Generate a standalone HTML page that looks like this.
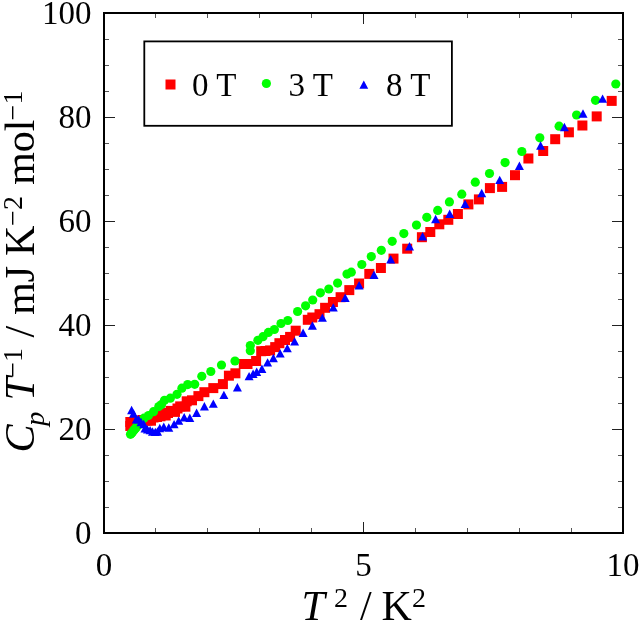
<!DOCTYPE html>
<html><head><meta charset="utf-8"><style>
html,body{margin:0;padding:0;background:#fff;}
svg{display:block;will-change:transform;}
text{font-family:"Liberation Serif",serif;}
</style></head><body>
<svg width="640" height="622" viewBox="0 0 640 622">
<rect width="640" height="622" fill="#fff"/>
<g fill="#f00" stroke="none"><rect x="125.3" y="417.0" width="10" height="10"/><rect x="125.3" y="421.0" width="10" height="10"/><rect x="127.5" y="419.5" width="10" height="10"/><rect x="130.0" y="418.0" width="10" height="10"/><rect x="132.5" y="416.5" width="10" height="10"/><rect x="135.0" y="415.5" width="10" height="10"/><rect x="137.5" y="415.0" width="10" height="10"/><rect x="140.0" y="415.5" width="10" height="10"/><rect x="142.5" y="415.5" width="10" height="10"/><rect x="146.0" y="415.7" width="10" height="10"/><rect x="148.5" y="412.5" width="10" height="10"/><rect x="152.0" y="412.0" width="10" height="10"/><rect x="155.5" y="411.3" width="10" height="10"/><rect x="157.5" y="409.0" width="10" height="10"/><rect x="160.7" y="410.5" width="10" height="10"/><rect x="163.0" y="408.0" width="10" height="10"/><rect x="165.6" y="405.9" width="10" height="10"/><rect x="170.0" y="406.9" width="10" height="10"/><rect x="172.5" y="403.5" width="10" height="10"/><rect x="175.2" y="401.4" width="10" height="10"/><rect x="180.4" y="401.7" width="10" height="10"/><rect x="181.7" y="396.3" width="10" height="10"/><rect x="187.0" y="395.3" width="10" height="10"/><rect x="193.4" y="391.1" width="10" height="10"/><rect x="199.4" y="387.2" width="10" height="10"/><rect x="208.3" y="383.1" width="10" height="10"/><rect x="217.9" y="379.1" width="10" height="10"/><rect x="223.9" y="370.7" width="10" height="10"/><rect x="230.4" y="368.3" width="10" height="10"/><rect x="238.8" y="359.0" width="10" height="10"/><rect x="242.5" y="359.0" width="10" height="10"/><rect x="251.1" y="356.0" width="10" height="10"/><rect x="256.2" y="346.2" width="10" height="10"/><rect x="260.5" y="346.0" width="10" height="10"/><rect x="265.1" y="345.4" width="10" height="10"/><rect x="270.2" y="342.1" width="10" height="10"/><rect x="274.4" y="338.2" width="10" height="10"/><rect x="280.0" y="335.0" width="10" height="10"/><rect x="285.1" y="331.9" width="10" height="10"/><rect x="290.7" y="325.7" width="10" height="10"/><rect x="302.8" y="314.8" width="10" height="10"/><rect x="307.3" y="312.5" width="10" height="10"/><rect x="314.5" y="309.2" width="10" height="10"/><rect x="320.1" y="302.8" width="10" height="10"/><rect x="327.9" y="297.0" width="10" height="10"/><rect x="335.6" y="292.2" width="10" height="10"/><rect x="344.3" y="285.1" width="10" height="10"/><rect x="354.1" y="278.5" width="10" height="10"/><rect x="364.3" y="268.9" width="10" height="10"/><rect x="375.9" y="263.0" width="10" height="10"/><rect x="388.5" y="253.6" width="10" height="10"/><rect x="402.2" y="243.7" width="10" height="10"/><rect x="416.9" y="232.2" width="10" height="10"/><rect x="425.3" y="227.0" width="10" height="10"/><rect x="434.3" y="219.3" width="10" height="10"/><rect x="443.3" y="214.8" width="10" height="10"/><rect x="452.9" y="209.0" width="10" height="10"/><rect x="463.4" y="199.4" width="10" height="10"/><rect x="473.9" y="194.4" width="10" height="10"/><rect x="484.9" y="183.1" width="10" height="10"/><rect x="497.1" y="181.9" width="10" height="10"/><rect x="510.0" y="170.2" width="10" height="10"/><rect x="523.4" y="153.5" width="10" height="10"/><rect x="538.2" y="146.0" width="10" height="10"/><rect x="550.2" y="134.2" width="10" height="10"/><rect x="563.9" y="127.3" width="10" height="10"/><rect x="577.4" y="120.5" width="10" height="10"/><rect x="591.7" y="111.4" width="10" height="10"/><rect x="606.7" y="95.9" width="10" height="10"/></g>
<g fill="#0f0" stroke="none"><circle cx="130.5" cy="434.3" r="4.6"/><circle cx="131.5" cy="433.2" r="4.6"/><circle cx="132.5" cy="432.0" r="4.6"/><circle cx="133.5" cy="430.8" r="4.6"/><circle cx="134.5" cy="429.5" r="4.6"/><circle cx="135.5" cy="428.3" r="4.6"/><circle cx="136.5" cy="427.0" r="4.6"/><circle cx="137.6" cy="425.8" r="4.6"/><circle cx="138.8" cy="424.5" r="4.6"/><circle cx="141.0" cy="421.0" r="4.6"/><circle cx="144.0" cy="418.2" r="4.6"/><circle cx="148.5" cy="415.5" r="4.6"/><circle cx="153.5" cy="411.7" r="4.6"/><circle cx="158.8" cy="406.6" r="4.6"/><circle cx="161.5" cy="404.5" r="4.6"/><circle cx="164.5" cy="400.3" r="4.6"/><circle cx="170.3" cy="398.2" r="4.6"/><circle cx="177.0" cy="394.3" r="4.6"/><circle cx="181.9" cy="388.2" r="4.6"/><circle cx="187.7" cy="384.6" r="4.6"/><circle cx="194.7" cy="384.3" r="4.6"/><circle cx="201.8" cy="376.3" r="4.6"/><circle cx="210.8" cy="371.5" r="4.6"/><circle cx="221.5" cy="365.0" r="4.6"/><circle cx="235.0" cy="361.0" r="4.6"/><circle cx="250.3" cy="350.7" r="4.6"/><circle cx="250.3" cy="345.5" r="4.6"/><circle cx="257.9" cy="340.3" r="4.6"/><circle cx="263.0" cy="336.7" r="4.6"/><circle cx="268.4" cy="332.4" r="4.6"/><circle cx="274.4" cy="329.5" r="4.6"/><circle cx="281.0" cy="323.5" r="4.6"/><circle cx="287.8" cy="320.5" r="4.6"/><circle cx="297.6" cy="311.5" r="4.6"/><circle cx="305.6" cy="305.8" r="4.6"/><circle cx="312.7" cy="300.0" r="4.6"/><circle cx="320.4" cy="292.8" r="4.6"/><circle cx="328.8" cy="289.0" r="4.6"/><circle cx="337.6" cy="283.1" r="4.6"/><circle cx="347.0" cy="274.1" r="4.6"/><circle cx="351.3" cy="272.2" r="4.6"/><circle cx="361.8" cy="264.5" r="4.6"/><circle cx="371.3" cy="256.6" r="4.6"/><circle cx="381.3" cy="250.3" r="4.6"/><circle cx="392.2" cy="241.3" r="4.6"/><circle cx="403.8" cy="233.6" r="4.6"/><circle cx="416.5" cy="225.1" r="4.6"/><circle cx="426.8" cy="217.3" r="4.6"/><circle cx="437.7" cy="210.4" r="4.6"/><circle cx="449.4" cy="201.9" r="4.6"/><circle cx="461.8" cy="194.2" r="4.6"/><circle cx="475.3" cy="182.2" r="4.6"/><circle cx="489.5" cy="173.5" r="4.6"/><circle cx="505.1" cy="162.6" r="4.6"/><circle cx="521.8" cy="151.5" r="4.6"/><circle cx="539.8" cy="137.8" r="4.6"/><circle cx="559.1" cy="126.2" r="4.6"/><circle cx="576.6" cy="115.0" r="4.6"/><circle cx="595.5" cy="100.3" r="4.6"/><circle cx="615.8" cy="84.0" r="4.6"/></g>
<g fill="#00f" stroke="none"><path d="M131.6 405.8L136.1 414.2L127.1 414.2Z"/><path d="M133.5 409.3L138.0 417.7L129.0 417.7Z"/><path d="M136.3 415.1L140.8 423.5L131.8 423.5Z"/><path d="M138.5 415.1L143.0 423.5L134.0 423.5Z"/><path d="M141.0 417.8L145.5 426.2L136.5 426.2Z"/><path d="M143.7 419.8L148.2 428.2L139.2 428.2Z"/><path d="M145.0 424.1L149.5 432.5L140.5 432.5Z"/><path d="M147.5 425.2L152.0 433.6L143.0 433.6Z"/><path d="M150.1 425.9L154.6 434.3L145.6 434.3Z"/><path d="M152.5 427.3L157.0 435.7L148.0 435.7Z"/><path d="M155.3 427.7L159.8 436.1L150.8 436.1Z"/><path d="M157.5 427.3L162.0 435.7L153.0 435.7Z"/><path d="M159.8 423.8L164.3 432.2L155.3 432.2Z"/><path d="M163.8 422.6L168.3 431.0L159.3 431.0Z"/><path d="M168.8 423.3L173.3 431.7L164.3 431.7Z"/><path d="M174.1 419.9L178.6 428.3L169.6 428.3Z"/><path d="M178.7 416.4L183.2 424.8L174.2 424.8Z"/><path d="M184.2 413.1L188.7 421.5L179.7 421.5Z"/><path d="M189.8 413.5L194.3 421.9L185.3 421.9Z"/><path d="M196.6 408.6L201.1 417.0L192.1 417.0Z"/><path d="M204.4 402.1L208.9 410.5L199.9 410.5Z"/><path d="M213.3 399.4L217.8 407.8L208.8 407.8Z"/><path d="M223.9 390.7L228.4 399.1L219.4 399.1Z"/><path d="M237.4 383.1L241.9 391.5L232.9 391.5Z"/><path d="M249.1 371.9L253.6 380.3L244.6 380.3Z"/><path d="M253.1 369.5L257.6 377.9L248.6 377.9Z"/><path d="M256.7 367.5L261.2 375.9L252.2 375.9Z"/><path d="M261.9 364.6L266.4 373.0L257.4 373.0Z"/><path d="M267.6 358.2L272.1 366.6L263.1 366.6Z"/><path d="M273.4 353.8L277.9 362.2L268.9 362.2Z"/><path d="M280.2 349.2L284.7 357.6L275.7 357.6Z"/><path d="M287.3 343.9L291.8 352.3L282.8 352.3Z"/><path d="M294.6 337.2L299.1 345.6L290.1 345.6Z"/><path d="M303.1 328.5L307.6 336.9L298.6 336.9Z"/><path d="M312.4 321.3L316.9 329.7L307.9 329.7Z"/><path d="M322.4 313.4L326.9 321.8L317.9 321.8Z"/><path d="M333.3 303.2L337.8 311.6L328.8 311.6Z"/><path d="M345.2 293.5L349.7 301.9L340.7 301.9Z"/><path d="M359.1 281.1L363.6 289.5L354.6 289.5Z"/><path d="M374.0 270.5L378.5 278.9L369.5 278.9Z"/><path d="M390.7 255.0L395.2 263.4L386.2 263.4Z"/><path d="M409.5 242.1L414.0 250.5L405.0 250.5Z"/><path d="M422.6 232.0L427.1 240.4L418.1 240.4Z"/><path d="M435.6 214.8L440.1 223.2L431.1 223.2Z"/><path d="M449.7 209.5L454.2 217.9L445.2 217.9Z"/><path d="M465.1 199.7L469.6 208.1L460.6 208.1Z"/><path d="M481.7 188.8L486.2 197.2L477.2 197.2Z"/><path d="M499.7 175.7L504.2 184.1L495.2 184.1Z"/><path d="M519.4 161.6L523.9 170.0L514.9 170.0Z"/><path d="M540.6 141.3L545.1 149.7L536.1 149.7Z"/><path d="M564.4 122.8L568.9 131.2L559.9 131.2Z"/><path d="M583.0 109.3L587.5 117.7L578.5 117.7Z"/><path d="M602.6 94.4L607.1 102.8L598.1 102.8Z"/></g>
<path d="M363.5 533.0V522.0M363.5 13.0V24.0M104.0 429.5H115.0M623.0 429.5H612.0M104.0 325.5H115.0M623.0 325.5H612.0M104.0 221.5H115.0M623.0 221.5H612.0M104.0 117.5H115.0M623.0 117.5H612.0" stroke="#222" stroke-width="1" fill="none"/>
<path d="M155.5 533.0V528.0M155.5 13.0V18.0M207.5 533.0V528.0M207.5 13.0V18.0M259.5 533.0V528.0M259.5 13.0V18.0M311.5 533.0V528.0M311.5 13.0V18.0M415.5 533.0V528.0M415.5 13.0V18.0M467.5 533.0V528.0M467.5 13.0V18.0M519.5 533.0V528.0M519.5 13.0V18.0M571.5 533.0V528.0M571.5 13.0V18.0M104.0 507.5H109.0M623.0 507.5H618.0M104.0 481.5H109.0M623.0 481.5H618.0M104.0 455.5H109.0M623.0 455.5H618.0M104.0 403.5H109.0M623.0 403.5H618.0M104.0 377.5H109.0M623.0 377.5H618.0M104.0 351.5H109.0M623.0 351.5H618.0M104.0 299.5H109.0M623.0 299.5H618.0M104.0 273.5H109.0M623.0 273.5H618.0M104.0 247.5H109.0M623.0 247.5H618.0M104.0 195.5H109.0M623.0 195.5H618.0M104.0 169.5H109.0M623.0 169.5H618.0M104.0 143.5H109.0M623.0 143.5H618.0M104.0 91.5H109.0M623.0 91.5H618.0M104.0 65.5H109.0M623.0 65.5H618.0M104.0 39.5H109.0M623.0 39.5H618.0" stroke="#555" stroke-width="1" fill="none"/>
<rect x="104.0" y="13.0" width="519.0" height="520.0" fill="none" stroke="#000" stroke-width="2"/>
<rect x="144.3" y="41.4" width="307.6" height="84.4" fill="#fff" stroke="#000" stroke-width="1.8"/>
<rect x="165.5" y="79.5" width="10" height="10" fill="#f00"/>
<circle cx="266.4" cy="83.5" r="4.6" fill="#0f0"/>
<path d="M363.8 80.4L368.2 88.8L359.4 88.8Z" fill="#00f"/>
<g font-size="33" fill="#000">
<text x="192" y="96.2">0 T</text>
<text x="288.5" y="96.2">3 T</text>
<text x="386" y="96.2">8 T</text>
<text x="91.5" y="543.9" text-anchor="end">0</text><text x="91.5" y="439.9" text-anchor="end">20</text><text x="91.5" y="335.9" text-anchor="end">40</text><text x="91.5" y="231.9" text-anchor="end">60</text><text x="91.5" y="127.9" text-anchor="end">80</text><text x="91.5" y="23.9" text-anchor="end">100</text>
<text x="104.0" y="576.1" text-anchor="middle">0</text><text x="363.5" y="576.1" text-anchor="middle">5</text><text x="623.0" y="576.1" text-anchor="middle">10</text>
</g>
<g fill="#000" font-size="42">
<text x="301.5" y="619.5" font-style="italic">T</text>
<text x="334" y="607.2" font-size="28">2</text>
<text x="359.9" y="619.5">/</text>
<text x="381.4" y="619.5">K</text>
<text x="412" y="607.2" font-size="28">2</text>
</g>
<g fill="#000" font-size="42" transform="translate(33.8,451) rotate(-90)">
<text x="-1.4" y="0" font-style="italic">C</text>
<text x="25.2" y="10.6" font-style="italic" font-size="28">p</text>
<text x="50.6" y="0" font-style="italic">T</text>
<text x="73.2" y="-11.5" font-size="28">−1</text>
<text x="113.6" y="0">/</text>
<text x="136.2" y="0">mJ</text>
<text x="195" y="0">K</text>
<text x="225.1" y="-11.5" font-size="28">−2</text>
<text x="266.2" y="0">mol</text>
<text x="330.6" y="-11.5" font-size="28">−1</text>
</g>
</svg>
</body></html>
